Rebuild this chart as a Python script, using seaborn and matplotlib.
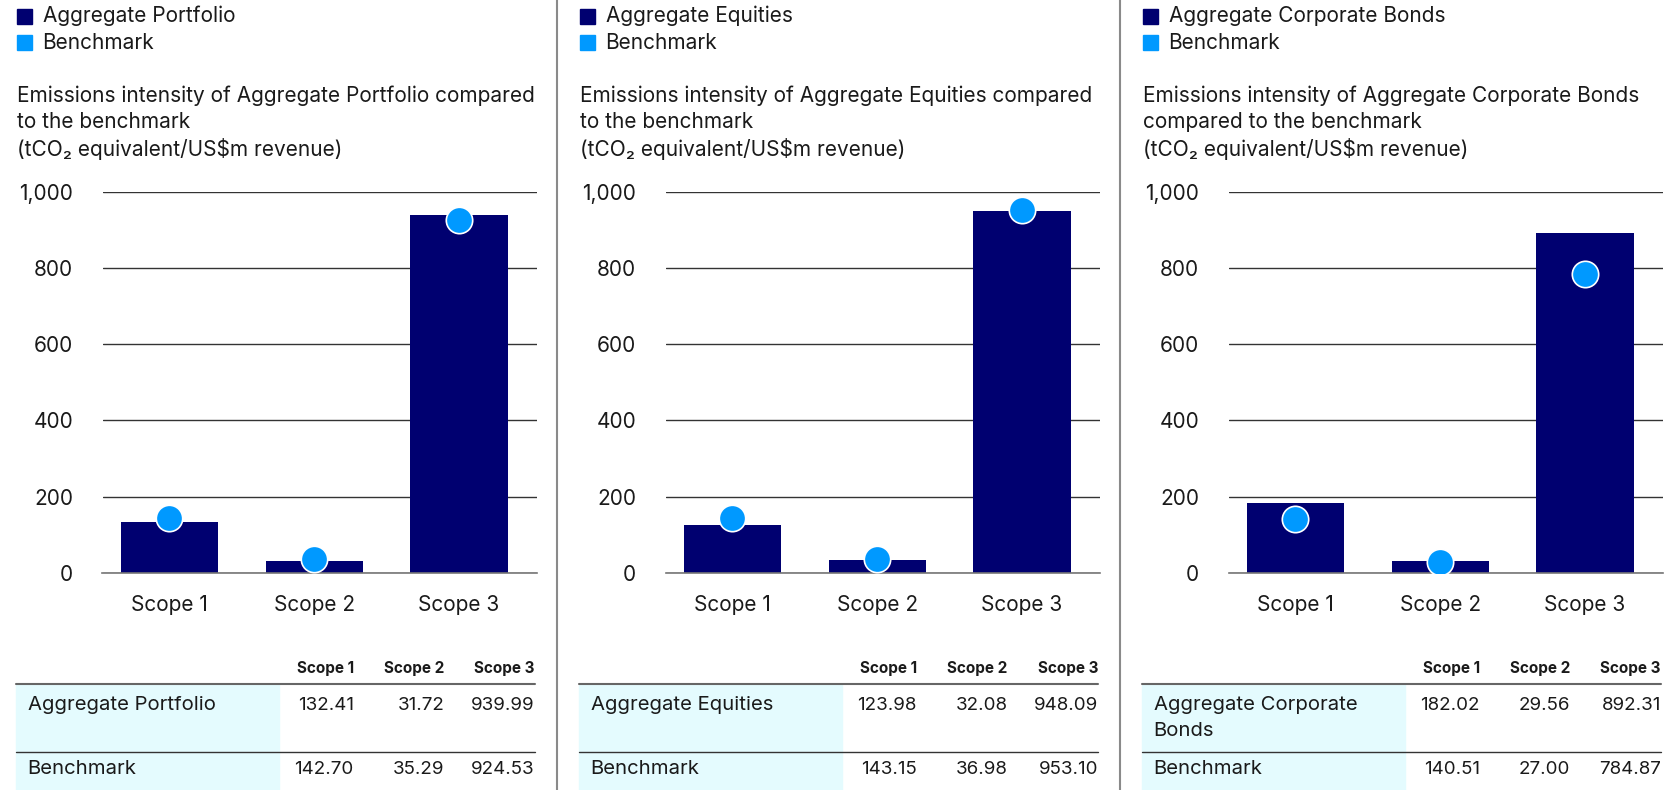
import numpy as np
import pandas as pd
import matplotlib
matplotlib.use("Agg")
import matplotlib.pyplot as plt
from matplotlib.patches import Rectangle
from matplotlib.lines import Line2D
import seaborn as sns

scopes = ["Scope 1", "Scope 2", "Scope 3"]
portfolio_names = ["Aggregate Portfolio", "Aggregate Equities", "Aggregate Corporate Bonds"]
table_labels = [["Aggregate Portfolio"], ["Aggregate Equities"], ["Aggregate Corporate", "Bonds"]]
title_lines = [
    ["Emissions intensity of Aggregate Portfolio compared", "to the benchmark"],
    ["Emissions intensity of Aggregate Equities compared", "to the benchmark"],
    ["Emissions intensity of Aggregate Corporate Bonds", "compared to the benchmark"],
]
unit_line = "(tCO₂ equivalent/US$m revenue)"
portfolio_vals = [
    [132.41, 31.72, 939.99],
    [123.98, 32.08, 948.09],
    [182.02, 29.56, 892.31],
]
benchmark_vals = [
    [142.70, 35.29, 924.53],
    [143.15, 36.98, 953.10],
    [140.51, 27.00, 784.87],
]
y_ticks = [0, 200, 400, 600, 800, 1000]

NAVY = "#000070"
BLUE = "#0099FF"
CYAN = "#E4FBFE"
TEXT = "#1a1a1a"

W, H = 1671, 790
PANEL_DX = 563

sns.set_theme(style="white")
plt.rcParams["font.family"] = ["Inter", "DejaVu Sans"]

fig = plt.figure(figsize=(W / 100, H / 100), dpi=100)


def fx(px):
    return px / W


def fy(py):
    return 1 - py / H


for i in range(3):
    off = i * PANEL_DX
    df = pd.DataFrame({"scope": scopes,
                       "portfolio": portfolio_vals[i],
                       "benchmark": benchmark_vals[i]})

    ax = fig.add_axes([fx(102.5 + off), fy(572.7), fx(434), (572.7 - 191.7) / H])
    sns.barplot(data=df, x="scope", y="portfolio", color=NAVY, saturation=1,
                width=0.67, linewidth=0, ax=ax)
    sns.stripplot(data=df, x="scope", y="benchmark", color=BLUE, size=19,
                  jitter=False, edgecolor="white", linewidth=1.2, zorder=5, ax=ax)
    # bars sit slightly left of the band centres in the original
    ax.set_xlim(-0.46, 2.535)
    ax.set_ylim(0, 1000)
    ax.set_yticks(y_ticks)
    ax.set_yticklabels([f"{v:,}" for v in y_ticks])
    ax.set_xlabel("")
    ax.set_ylabel("")
    ax.yaxis.grid(True, color="#333333", lw=1)
    ax.set_axisbelow(True)
    for s in ["top", "right", "left"]:
        ax.spines[s].set_visible(False)
    ax.spines["bottom"].set_color("#777777")
    ax.spines["bottom"].set_linewidth(1.2)
    ax.tick_params(axis="y", length=0, pad=21, labelsize=15, labelcolor=TEXT)
    ax.tick_params(axis="x", which="major", length=0, pad=16, labelsize=15, labelcolor=TEXT)
    ax.set_xticks([-0.46, 0.54, 1.54], minor=True)
    ax.tick_params(axis="x", which="minor", length=5, width=1.2, color="#777777", direction="out")

    # legend
    for j, (lab, col) in enumerate([(portfolio_names[i], NAVY), ("Benchmark", BLUE)]):
        yc = 16 + 26.7 * j
        fig.patches.append(Rectangle((fx(17 + off), fy(yc + 7.5)), fx(15), 15 / H,
                                     transform=fig.transFigure, color=col))
        fig.text(fx(42.6 + off), fy(yc), lab, fontsize=15, color=TEXT, va="center", ha="left")

    # title
    for j, line in enumerate(title_lines[i] + [unit_line]):
        fig.text(fx(17 + off), fy(96 + 26.5 * j), line, fontsize=15, color=TEXT,
                 va="center", ha="left")

    # table
    col_x = [353.8 + off, 444.4 + off, 535 + off]
    for cx, sc in zip(col_x, scopes):
        fig.text(fx(cx), fy(669), sc, fontsize=11, fontweight="bold", color=TEXT,
                 ha="right", va="center")
    fig.patches.append(Rectangle((fx(16 + off), 0), fx(263), fy(685),
                                 transform=fig.transFigure, color=CYAN, zorder=0))
    fig.add_artist(Line2D([fx(16 + off), fx(535 + off)], [fy(684), fy(684)],
                          color="#666666", lw=1.5))
    fig.add_artist(Line2D([fx(16 + off), fx(535 + off)], [fy(752.4), fy(752.4)],
                          color="#333333", lw=1))
    for k, line in enumerate(table_labels[i]):
        fig.text(fx(27.7 + off), fy(705.5 + 25.5 * k), line, fontsize=14.6, color=TEXT,
                 ha="left", va="center")
    fig.text(fx(27.7 + off), fy(769.4), "Benchmark", fontsize=14.6, color=TEXT,
             ha="left", va="center")
    for cx, pv, bv in zip(col_x, portfolio_vals[i], benchmark_vals[i]):
        fig.text(fx(cx), fy(705.5), f"{pv:.2f}", fontsize=13.5, color=TEXT,
                 ha="right", va="center")
        fig.text(fx(cx), fy(769.4), f"{bv:.2f}", fontsize=13.5, color=TEXT,
                 ha="right", va="center")

# panel dividers
for xd in [556.7, 1119.5]:
    fig.add_artist(Line2D([fx(xd), fx(xd)], [0, 1], color="#8a8a8a", lw=1.5))

fig.savefig("out.png", dpi=100)
